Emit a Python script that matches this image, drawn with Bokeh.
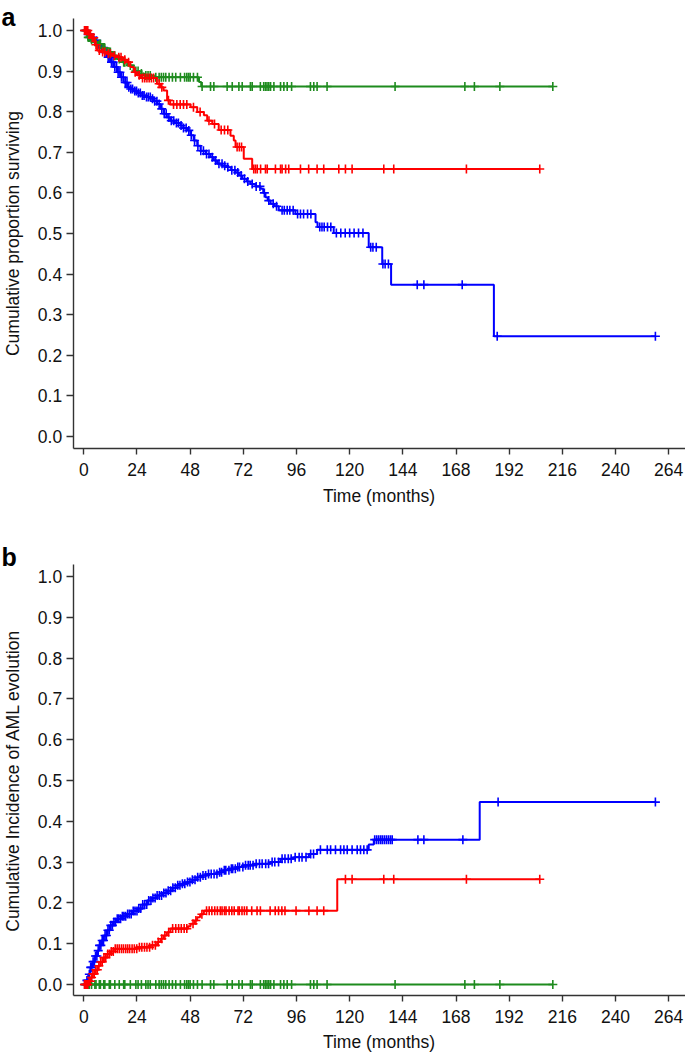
import math
import numpy as np
from bokeh.plotting import figure
from bokeh.layouts import column
from bokeh.models import FixedTicker, PrintfTickFormatter, Label, Range1d
from bokeh.embed import file_html
from bokeh.resources import INLINE

# ---------------- data ----------------
x_ticks = [0, 24, 48, 72, 96, 120, 144, 168, 192, 216, 240, 264]
y_ticks = [0.0, 0.1, 0.2, 0.3, 0.4, 0.5, 0.6, 0.7, 0.8, 0.9, 1.0]

# Panel a: Kaplan-Meier survival
a_blue_t = [0, 1.5, 3, 4.5, 6, 7.5, 9, 10.6, 12, 13.5, 15, 16.6, 18, 19.6, 21, 22.6, 24, 25.6, 28, 30.1,
            31.5, 33.1, 34.6, 36.1, 37.5, 39.1, 41, 43.6, 45, 46.7, 48.2, 49.6, 51.2, 52.7, 55, 57.2, 58.7, 60.2,
            62.5, 64.7, 66.5, 68.5, 70, 71.5, 73.5, 75.2, 77.5, 79.8, 81, 82, 83, 84.3, 86, 88, 95.5, 104.6,
            105.5, 112.8, 128.6, 134.7, 138.7, 185.1]
a_blue_s = [1.0, 0.99, 0.982, 0.975, 0.966, 0.958, 0.946, 0.934, 0.922, 0.910, 0.897, 0.885, 0.872, 0.860,
            0.856, 0.851, 0.846, 0.840, 0.836, 0.832, 0.826, 0.819, 0.807, 0.795, 0.786, 0.778, 0.772, 0.766,
            0.760, 0.754, 0.742, 0.729, 0.716, 0.704, 0.696, 0.688, 0.680, 0.672, 0.667, 0.663, 0.656, 0.650,
            0.643, 0.635, 0.628, 0.622, 0.616, 0.610, 0.600, 0.589, 0.581, 0.573, 0.567, 0.557, 0.548, 0.528,
            0.516, 0.501, 0.466, 0.425, 0.374, 0.247]
a_blue_cens = [0.5, 1.2, 2, 2.8, 3.5, 4.2, 5, 5.8, 6.5, 7.2, 8, 8.8, 9.5, 10.3, 11, 11.8, 12.5, 13.2, 14, 14.8,
               15.5, 16.3, 17, 17.8, 18.7, 19.5, 20.3, 21.2, 22, 23, 23.8, 24.6, 25.5, 26.4, 27.2, 28.3, 29.1,
               30, 31, 32, 33, 34, 35.2, 36.3, 37.2, 38.4, 39.5, 40.6, 41.8, 42.7, 43.9, 45, 46.2, 47.4, 48.5,
               50, 51.5, 52.8, 54, 55.4, 56.5, 58, 59.5, 61, 62.4, 63.6, 65, 66.8, 68.2, 69.5, 71, 72.5, 74, 76,
               77.8, 79.5, 81.5, 83.5, 85.5, 87, 89.5, 90.5, 91.8, 93, 94.5, 96.5, 97.8, 99.2, 101, 102.5, 106.5,
               107.5, 108.5, 110, 111.5, 114, 116, 118, 120, 122, 124, 126, 129.5, 130.5, 132, 135, 136, 137.5,
               150.5, 153.5, 170.8, 186.6, 258]

a_red_t = [0, 2, 3.5, 5, 6, 8, 10.5, 13, 15, 17.5, 19.6, 21, 22.6, 24, 25.6, 33, 34.5, 36, 37.6, 39, 48.2,
           51.2, 54.2, 55.7, 58, 60.9, 66.2, 67.7, 68.5, 72.2, 76]
a_red_s = [1.0, 0.99, 0.982, 0.965, 0.951, 0.947, 0.943, 0.938, 0.934, 0.928, 0.922, 0.91, 0.897, 0.89,
           0.883, 0.869, 0.86, 0.852, 0.828, 0.818, 0.811, 0.799, 0.791, 0.778, 0.770, 0.755, 0.741, 0.729,
           0.713, 0.684, 0.659]
a_red_cens = [0.3, 0.8, 1.3, 1.8, 2.4, 3, 3.8, 4.5, 5.5, 7, 8.5, 9.5, 11, 12, 13.8, 15.8, 16.8, 18.5, 20.2,
              23.2, 25, 26.5, 27.5, 28.5, 29.5, 30.5, 31.5, 34, 35.2, 38.2, 40.5, 42, 43.5, 45, 46.5, 49.5,
              52.5, 56.5, 59, 62, 63.5, 65, 69.2, 70.2, 71.2, 76.7, 77.5, 78.3, 79.8, 82, 82.8, 86.5, 88.8,
              89.5, 91.1, 92.5, 97.8, 101.5, 105.3, 108.3, 115.1, 118.1, 121.1, 135.4, 139.9, 172.7, 205.8]

a_green_t = [0, 1.5, 3, 4.5, 6, 8.5, 10.6, 13, 15, 17.5, 19.6, 22.5, 25, 27, 31.5, 52, 53]
a_green_s = [1.0, 0.983, 0.977, 0.972, 0.967, 0.957, 0.947, 0.938, 0.93, 0.922, 0.914, 0.90, 0.894, 0.889,
             0.885, 0.873, 0.862]
green_cens = [0.5, 1, 2, 2.5, 3.5, 5, 5.5, 7, 7.5, 9, 9.5, 11.5, 12, 14, 16, 18, 18.5, 21, 23.5, 24.5, 26,
              28, 29, 30, 32.5, 34, 35, 36, 37, 38.5, 40, 41.5, 43.6, 45.5, 46.5, 47.3, 48, 49.5, 51.3, 53.4,
              57.2, 58.7, 64.7, 67, 70, 71.5, 75.2, 76, 79.7, 81.2, 82, 82.7, 83.5, 84.3, 85.8, 88.8, 90.3,
              91.8, 93.8, 102.3, 103.8, 105.3, 109.8, 140.5, 172, 176.3, 187.8, 211.7]

# Panel b: cumulative incidence of AML evolution
b_blue_t = [0, 1, 2, 3, 4, 5, 6, 7, 8, 9, 10.5, 12, 13.5, 15, 17, 19.6, 22, 24.1, 26.5, 28.6, 31, 33.1,
            35.5, 37.6, 40, 42.2, 44.5, 46.7, 49, 51.2, 53.5, 55.7, 60.2, 63, 66.2, 69.2, 72, 76.7, 84.3,
            88.8, 94.8, 101.6, 105.3, 128.6, 130.9, 178.7]
b_blue_c = [0, 0.01, 0.025, 0.042, 0.056, 0.07, 0.083, 0.096, 0.108, 0.12, 0.133, 0.145, 0.153, 0.161,
            0.167, 0.173, 0.18, 0.186, 0.196, 0.206, 0.212, 0.218, 0.224, 0.230, 0.237, 0.243, 0.247, 0.251,
            0.257, 0.263, 0.267, 0.271, 0.275, 0.28, 0.284, 0.288, 0.292, 0.296, 0.300, 0.308, 0.312, 0.320,
            0.330, 0.343, 0.355, 0.447]
b_blue_cens = [0.4, 0.9, 1.4, 1.9, 2.5, 3.1, 3.6, 4.2, 4.8, 5.3, 5.9, 6.5, 7.1, 7.7, 8.3, 8.9, 9.6, 10.2,
               10.9, 11.5, 12.2, 12.9, 13.6, 14.3, 15.1, 15.8, 16.6, 17.4, 18.1, 18.9, 19.8, 20.6, 21.4,
               22.3, 23.1, 24, 24.8, 25.7, 26.6, 27.5, 28.4, 29.3, 30.3, 31.2, 32.2, 33.1, 34.1, 35.1, 36.1,
               37.1, 38.1, 39.2, 40.2, 41.3, 42.4, 43.4, 44.5, 45.6, 46.8, 47.9, 49, 50.2, 51.4, 52.6, 53.8,
               55, 56.3, 57.5, 58.8, 60.1, 61.3, 62.2, 63.4, 64.1, 65.5, 66.6, 67.2, 68.4, 69.5, 70.3, 71.8,
               73, 74.2, 75.1, 76.4, 77.8, 79.3, 80.5, 82.1, 83.4, 85, 86.2, 87.9, 89.5, 90.8, 92.3, 93.6,
               95.4, 97.2, 98.5, 100.3, 102.4, 103.7, 106.8, 109.9, 111.4, 113.6, 115.9, 117.4, 118.9, 121.1,
               123.4, 124.9, 126.4, 127.9, 131.3, 132.2, 133.1, 134, 134.8, 135.7, 136.6, 137.5, 138.4,
               139.2, 150.8, 153.5, 171.1, 187, 258]

b_red_t = [0, 2, 3, 4, 5.3, 6.5, 7.5, 9, 10.6, 12, 13.5, 24, 30.1, 33.1, 34.6, 36, 37.5, 39.1, 47, 48.2,
           50, 51.2, 52.5, 54.2, 114.4]
b_red_c = [0, 0.008, 0.017, 0.026, 0.036, 0.046, 0.055, 0.066, 0.075, 0.081, 0.0875, 0.091, 0.096, 0.104,
           0.112, 0.12, 0.128, 0.137, 0.143, 0.149, 0.157, 0.165, 0.172, 0.181, 0.258]
b_red_cens = [0.3, 0.8, 1.3, 1.8, 2.4, 2.9, 3.5, 4.1, 4.7, 5.4, 6.1, 6.8, 7.6, 8.3, 9.1, 9.9, 10.8, 11.6,
              12.4, 13.3, 14.2, 15.1, 16, 17, 17.9, 18.9, 19.8, 20.7, 21.8, 22.8, 23.9, 25.1, 26.2, 27.4,
              28.5, 29.7, 31, 32.3, 33.6, 35.2, 36.6, 38.3, 40.1, 41.5, 42.8, 44, 45.3, 46.5, 49.3, 50.6,
              53.3, 55.4, 56.6, 57.8, 59.1, 60.3, 61.6, 62.4, 63.5, 64.2, 65.6, 66.8, 67.9, 69.6, 70.2, 71.4,
              72.5, 73.6, 75.8, 78.2, 79.7, 84.1, 86.4, 87.9, 89.4, 90.8, 95.8, 101.6, 105.3, 108.3, 118.1,
              121.1, 135.4, 139.9, 172.7, 205.8]

b_green_t = [0]
b_green_c = [0.0]

BLUE = "#0000FF"
RED = "#FF0000"
GREEN = "#1E8B1E"

# ---------------- pixel geometry (page px) ----------------
FONT = "Liberation Sans"
FS = "17.5px"
AX = "#333333"
W = 685
X0_PX, PX_PER_MONTH = 83.3, 2.2155      # page x of t=0, px per month
AXIS_X_PX = 72.7                        # page x of y-axis line
SHIFT = 6.0                             # label baseline correction (px)
SHIFT_BIG = 7.5


def xd(px):
    return (px - X0_PX) / PX_PER_MONTH


def step_xy(t, s, cens):
    return list(t) + [max(cens)], list(s) + [s[-1]]


def at(t, s, c):
    idx = np.searchsorted(np.array(t), np.array(c), side="right") - 1
    return np.array(s)[idx]


def make_panel(top_px, height, y0_px, ppu, frame_top, frame_bot, series, ylab, letter,
               xtitle_base, ytitle_center, letter_base):
    def yd(py):
        return (y0_px - py) / ppu

    p = figure(width=W, height=height,
               x_range=Range1d(xd(0), xd(W)),
               y_range=Range1d(yd(top_px + height), yd(top_px)),
               output_backend="svg", toolbar_location=None, title=None,
               min_border=0)
    p.min_border_left = 0
    p.min_border_right = 0
    p.min_border_top = 0
    p.min_border_bottom = 0
    p.grid.visible = False
    p.outline_line_color = None
    p.background_fill_color = "white"
    p.border_fill_color = "white"

    xa = p.xaxis[0]
    ya = p.yaxis[0]
    xa.fixed_location = yd(frame_bot)
    xa.bounds = (xd(AXIS_X_PX), xd(W))
    ya.fixed_location = xd(AXIS_X_PX)
    ya.bounds = (yd(frame_bot), yd(frame_top))
    xa.ticker = FixedTicker(ticks=x_ticks, minor_ticks=[])
    ya.ticker = FixedTicker(ticks=y_ticks, minor_ticks=[])
    ya.formatter = PrintfTickFormatter(format="%.1f")
    for ax in (xa, ya):
        ax.axis_line_color = AX
        ax.axis_line_width = 1.4
        ax.major_tick_line_color = AX
        ax.major_tick_line_width = 1.4
        ax.major_tick_in = 0
        ax.minor_tick_line_color = None
        ax.major_label_text_font = FONT
        ax.major_label_text_font_size = FS
        ax.major_label_text_color = "#111111"
    xa.major_tick_out = 6
    xa.major_label_standoff = 8
    ya.major_tick_out = 7
    ya.major_label_standoff = 4

    for t, s, cens, color in series:
        xs, ys = step_xy(t, s, cens)
        p.step(xs, ys, mode="after", line_color=color, line_width=2)
        p.scatter(cens, at(t, s, cens), marker="cross", size=9, line_color=color, line_width=1.6)

    p.add_layout(Label(x=xd(378.5), y=yd(xtitle_base - SHIFT), text="Time (months)",
                       text_font=FONT, text_font_size=FS, text_align="center",
                       text_baseline="alphabetic", text_color="#111111"))
    p.add_layout(Label(x=xd(18.3 - SHIFT), y=yd(ytitle_center), text=ylab, angle=math.pi / 2,
                       text_font=FONT, text_font_size=FS, text_align="center",
                       text_baseline="alphabetic", text_color="#111111"))
    p.add_layout(Label(x=xd(1), y=yd(letter_base - SHIFT_BIG), text=letter,
                       text_font=FONT, text_font_size="25px", text_font_style="bold",
                       text_align="left", text_baseline="alphabetic", text_color="#000000"))
    return p


pa = make_panel(0, 530, 436.0, 406.0, 18.0, 448.3,
                [(a_blue_t, a_blue_s, a_blue_cens, BLUE),
                 (a_green_t, a_green_s, green_cens, GREEN),
                 (a_red_t, a_red_s, a_red_cens, RED)],
                "Cumulative proportion surviving", "a", 501.0, 233.0, 23.5)

pb = make_panel(530, 522, 984.0, 408.0, 564.0, 995.0,
                [(b_blue_t, b_blue_c, b_blue_cens, BLUE),
                 (b_green_t, b_green_c, green_cens, GREEN),
                 (b_red_t, b_red_c, b_red_cens, RED)],
                "Cumulative Incidence of AML evolution", "b", 1047.0, 780.0, 563.5)

layout = column(pa, pb, spacing=0)
open("out.html", "w").write(file_html(layout, INLINE))
